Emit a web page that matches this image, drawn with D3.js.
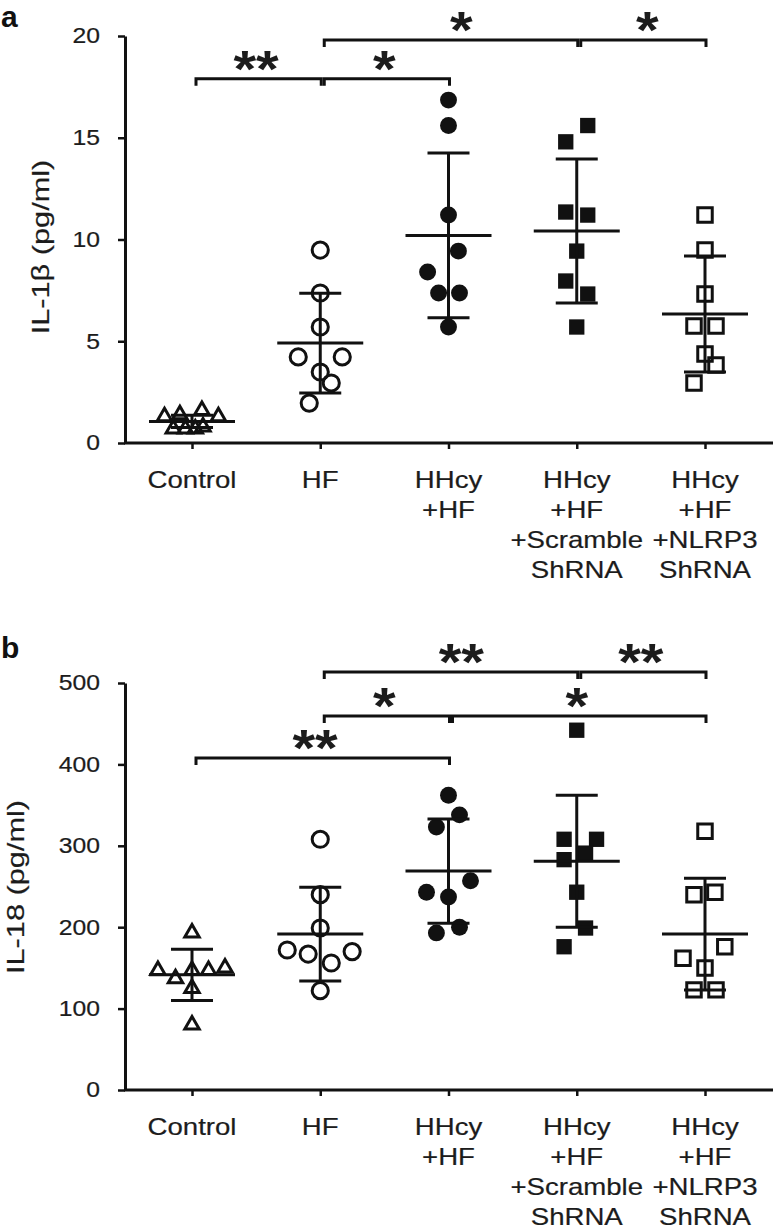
<!DOCTYPE html>
<html><head><meta charset="utf-8">
<script src="https://cdn.jsdelivr.net/npm/d3@7"></script>
<style>body{margin:0;background:#fff} svg{display:block;font-family:"Liberation Sans",Arial,sans-serif}</style>
</head><body><svg id="c" width="773" height="1231"></svg>
<script>
// ---------- data ----------
const categories = ["Control","HF","HHcy+HF","HHcy+HF+Scramble ShRNA","HHcy+HF+NLRP3 ShRNA"];
const categoryLines = [["Control"],["HF"],["HHcy","+HF"],["HHcy","+HF","+Scramble","ShRNA"],["HHcy","+HF","+NLRP3","ShRNA"]];

const il1bTicks = [0,5,10,15,20];
const il1bValues = [
  [1.3,1.4,1.6,1.3,0.7,0.7,0.7,0.8],
  [9.48,7.37,5.7,4.23,4.23,3.49,2.95,1.96],
  [16.85,15.6,11.2,9.43,8.4,7.37,7.37,5.7],
  [15.6,14.8,11.35,11.2,9.43,7.96,7.32,5.7],
  [11.2,9.48,7.32,5.75,5.75,4.37,3.83,2.95]
];
const il1bJitter = [
  [-2.5,-1.1,0.9,2.4,-1.7,-0.6,0.3,1.0],
  [0,0,0,-2,2,0,1,-1],
  [0,0,0,0.9,-1.9,-0.9,1,0],
  [1,-1,-1,1,0,-1,1,0],
  [0,0,0,-1,1,0,1,-1]
];
const il1bMean = [1.06,4.91,10.2,10.42,6.34];
const il1bSD = [0.3,2.45,4.05,3.54,2.85];
const il1bBrackets = [
  {from:1,to:3,level:19.8,label:"*",labelAt:2.1},
  {from:3,to:4,level:19.8,label:"*",labelAt:3.55},
  {from:0,to:1,level:17.9,label:"**",labelAt:0.5},
  {from:1,to:2,level:17.9,label:"*",labelAt:1.5}
];

const il18Ticks = [0,100,200,300,400,500];
const il18Values = [
  [193,147,137,147,147,150,125,80],
  [308,240,199,172,167,156,170,122],
  [362,338,323,257,243,237,200,193],
  [442,308,308,291,283,243,199,176],
  [318,240,243,176,162,150,123,123]
];
const il18Jitter = [
  [0,-3.1,-1.5,0,1.5,3,0,0],
  [0,0,0,-3,-1.1,1,2.9,0],
  [0,1,-1.1,2,-2,0,1,-1.1],
  [0,-1.15,1.8,0.8,-1.15,0,0.8,-1.15],
  [0,-1,0.9,1.8,-2,0,-1,1]
];
const il18Mean = [141.5,191.5,269,281,191.5];
const il18SD = [31.5,57.5,64,81,68.5];
const il18Brackets = [
  {from:1,to:3,level:513.5,label:"**",labelAt:2.1},
  {from:3,to:4,level:513.5,label:"**",labelAt:3.5},
  {from:1,to:2,level:459.5,label:"*",labelAt:1.5},
  {from:2,to:4,level:459.5,label:"*",labelAt:3.0},
  {from:0,to:2,level:408,label:"**",labelAt:0.96}
];

// ---------- drawing ----------
const svg = d3.select("#c");
const INK = "#111";
const TXT = "#1c1c1c";
const SX = 1.2;
const markerType = [d3.symbolTriangle, d3.symbolCircle, d3.symbolCircle, d3.symbolSquare, d3.symbolSquare];
const markerFilled = [false,false,true,true,false];
const markerSize = [90, 205, 225, 235, 210];

const x = d3.scalePoint().domain(categories).range([192,705]);
const jitterScale = d3.scaleLinear().domain([-1,1]).range([-11,11]);

function stretchedText(parent, px, py, str, o) {
  const g = parent.append("g")
    .attr("transform", `translate(${px},${py})${o.rotate ? ` rotate(${o.rotate})` : ""} scale(${o.sx || SX},1)`);
  return g.append("text").attr("text-anchor", o.anchor || "middle")
    .attr("font-size", o.size).attr("font-weight", o.weight || "normal")
    .attr("fill", TXT).attr("stroke", TXT).attr("stroke-width", o.sw == null ? 0.2 : o.sw)
    .text(str);
}

function drawPanel(cfg) {
  const y = d3.scaleLinear().domain(cfg.domain).range(cfg.yRange);
  const g = svg.append("g");

  // y axis
  const ya = g.append("g").attr("transform", "translate(125,0)")
    .call(d3.axisLeft(y).tickValues(cfg.ticks).tickSize(7).tickSizeOuter(0));
  ya.select(".domain").attr("stroke", INK).attr("stroke-width", 3);
  ya.selectAll(".tick line").attr("stroke", INK).attr("stroke-width", 2.5);
  ya.selectAll(".tick text").attr("x", null).attr("font-size", 21.5).attr("fill", TXT)
    .attr("stroke", TXT).attr("stroke-width", 0.2)
    .attr("font-family", '"Liberation Sans",Arial,sans-serif')
    .attr("transform", `translate(-25,0) scale(1.15,1)`);

  // x axis
  const xa = g.append("g").attr("transform", `translate(0,${cfg.yRange[0]})`)
    .call(d3.axisBottom(x).tickSize(6).tickFormat(""));
  xa.select(".domain").remove();
  xa.selectAll(".tick line").attr("stroke", INK).attr("stroke-width", 2.5);
  g.append("line").attr("x1", 124).attr("x2", 773)
    .attr("y1", cfg.yRange[0]).attr("y2", cfg.yRange[0])
    .attr("stroke", INK).attr("stroke-width", 3);

  // category labels
  categories.forEach((c, i) => {
    categoryLines[i].forEach((ln, j) => {
      stretchedText(g, x(c), cfg.yRange[0] + 45 + j * 30, ln, {size: 23});
    });
  });

  // y title
  stretchedText(g, cfg.titleX, cfg.titleY, cfg.title, {size: 24, rotate: -90, sx: 1.28});

  // panel letter
  g.append("text").attr("x", 1).attr("y", cfg.letterY).attr("font-size", 30)
    .attr("font-weight", "bold").attr("fill", INK).text(cfg.letter);

  // points
  categories.forEach((c, i) => {
    const sym = d3.symbol().type(markerType[i]).size(markerSize[i]);
    g.selectAll(null).data(cfg.values[i].map((v, k) => ({v, j: cfg.jitter[i][k]})))
      .join("path")
      .attr("d", sym)
      .attr("transform", d => `translate(${x(c) + jitterScale(d.j)},${y(d.v)})`)
      .attr("fill", markerFilled[i] ? INK : "none")
      .attr("stroke", markerFilled[i] ? "none" : INK)
      .attr("stroke-width", 3);
  });

  // mean and SD
  categories.forEach((c, i) => {
    const cx = x(c), m = cfg.mean[i], s = cfg.sd[i];
    const lg = g.append("g").attr("stroke", INK).attr("stroke-width", 3);
    lg.append("line").attr("x1", cx - 43).attr("x2", cx + 43).attr("y1", y(m)).attr("y2", y(m));
    lg.append("line").attr("x1", cx).attr("x2", cx).attr("y1", y(m - s)).attr("y2", y(m + s));
    [m - s, m + s].forEach(v => lg.append("line").attr("x1", cx - 21).attr("x2", cx + 21).attr("y1", y(v)).attr("y2", y(v)));
  });

  // significance brackets
  const idx = d3.scaleLinear().domain([0, categories.length - 1]).range(x.range());
  cfg.brackets.forEach(b => {
    const x1 = x(categories[b.from]) + 4, x2 = x(categories[b.to]) + 1, by = y(b.level);
    g.append("path").attr("d", `M${x1},${by + 7}V${by}H${x2}V${by + 7}`)
      .attr("fill", "none").attr("stroke", INK).attr("stroke-width", 3);
    stretchedText(g, idx(b.labelAt), by + 8, b.label, {size: 52, weight: "bold", sx: 1.12, sw: 0});
  });
}

drawPanel({domain: [0,20], yRange: [443,36], ticks: il1bTicks, values: il1bValues, jitter: il1bJitter,
  mean: il1bMean, sd: il1bSD, brackets: il1bBrackets, title: "IL-1β (pg/ml)", titleX: 49, titleY: 247,
  letter: "a", letterY: 27});
drawPanel({domain: [0,500], yRange: [1090,683], ticks: il18Ticks, values: il18Values, jitter: il18Jitter,
  mean: il18Mean, sd: il18SD, brackets: il18Brackets, title: "IL-18 (pg/ml)", titleX: 24, titleY: 887,
  letter: "b", letterY: 658});
</script></body></html>
